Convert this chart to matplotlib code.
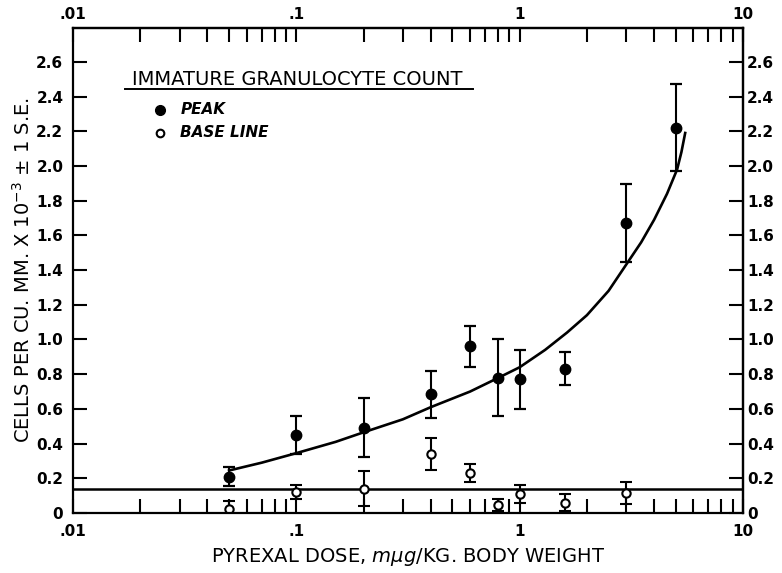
import matplotlib.pyplot as plt

# pyrexal dose (m-microgram / kg)
dose = [0.05, 0.1, 0.2, 0.4, 0.6, 0.8, 1.0, 1.6, 3.0, 5.0]
peak = [0.21, 0.45, 0.49, 0.685, 0.96, 0.78, 0.77, 0.83, 1.67, 2.22]
peak_se = [0.055, 0.11, 0.17, 0.135, 0.12, 0.22, 0.17, 0.095, 0.225, 0.25]

base_dose = [0.05, 0.1, 0.2, 0.4, 0.6, 0.8, 1.0, 1.6, 3.0]
base = [0.025, 0.12, 0.14, 0.34, 0.23, 0.045, 0.11, 0.06, 0.115]
base_se = [0.045, 0.04, 0.10, 0.095, 0.05, 0.035, 0.05, 0.05, 0.065]

baseline_level = 0.138

# fitted curve through the peak values
curve_dose = [0.05, 0.07, 0.1, 0.15, 0.2, 0.3, 0.4, 0.6, 0.82, 1.0, 1.3, 1.63,
              2.0, 2.5, 3.03, 3.5, 4.0, 4.57, 5.07, 5.3, 5.51]
curve_cells = [0.245, 0.29, 0.345, 0.41, 0.465, 0.54, 0.61, 0.70, 0.785, 0.84,
               0.94, 1.04, 1.14, 1.28, 1.44, 1.56, 1.69, 1.84, 1.98, 2.08, 2.19]

x_ticks = [0.01, 0.1, 1, 10]
x_labels = [".01", ".1", "1", "10"]
y_ticks = [0, 0.2, 0.4, 0.6, 0.8, 1.0, 1.2, 1.4, 1.6, 1.8, 2.0, 2.2, 2.4, 2.6]
y_labels = ["0"] + ["%.1f" % v for v in y_ticks[1:]]
minor_x = [m * d for d in [0.01, 0.1, 1] for m in range(2, 10)]

plt.rcParams['font.family'] = ['DejaVu Sans']

fig = plt.figure(figsize=(7.82, 5.73), dpi=100)
ax = fig.add_axes([73 / 782, 1 - 513 / 573, 670 / 782, 485 / 573])

ax.set_xscale('log')
ax.set_xlim(0.01, 10)
ax.set_ylim(0, 2.795)

ax.axhline(baseline_level, color='black', lw=1.8)
ax.plot(curve_dose, curve_cells, color='black', lw=1.9)

ax.errorbar(dose, peak, yerr=peak_se, fmt='o', color='black', ms=7.5,
            elinewidth=1.5, capsize=4.5, capthick=1.6)
ax.errorbar(base_dose, base, yerr=base_se, fmt='o', color='black', ms=6,
            mfc='white', mew=1.5, elinewidth=1.5, capsize=4.5, capthick=1.6)

for s in ax.spines.values():
    s.set_linewidth(1.6)

tick_kw = dict(direction='in', length=10, width=1.5, labelsize=11)
ax.set_xticks(x_ticks)
ax.set_xticklabels(x_labels, fontweight='bold')
ax.set_xticks(minor_x, minor=True)
ax.set_yticks(y_ticks)
ax.set_yticklabels(y_labels, fontweight='bold')
ax.tick_params(axis='x', which='both', pad=8, **tick_kw)
ax.tick_params(axis='y', which='both', pad=7, **tick_kw)
ax.tick_params(axis='x', which='minor', labelbottom=False)

top = ax.secondary_xaxis('top')
top.set_xticks(x_ticks)
top.set_xticklabels(x_labels, fontweight='bold')
top.set_xticks(minor_x, minor=True)
top.tick_params(axis='x', which='both', pad=4, **tick_kw)
top.tick_params(axis='x', which='minor', labeltop=False)
top.spines['top'].set_linewidth(1.6)

right = ax.secondary_yaxis('right')
right.set_yticks(y_ticks)
right.set_yticklabels(y_labels, fontweight='bold')
right.tick_params(axis='y', which='both', pad=3, **tick_kw)
right.spines['right'].set_linewidth(1.6)

ax.set_xlabel(r"PYREXAL DOSE, $m\mu g$/KG. BODY WEIGHT", fontsize=14, labelpad=5)
ax.set_ylabel(r"CELLS PER CU. MM. X 10$^{-3}$ $\pm$ 1 S.E.", fontsize=14, labelpad=2)

# legend block
ax.text(0.088, 0.893, "IMMATURE GRANULOCYTE COUNT", transform=ax.transAxes,
        fontsize=14, va='center', ha='left')
ax.plot([0.078, 0.597], [0.874, 0.874], transform=ax.transAxes, color='black',
        lw=1.4, clip_on=False)
ax.plot([0.130], [0.831], 'o', transform=ax.transAxes, color='black', ms=7)
ax.plot([0.130], [0.784], 'o', transform=ax.transAxes, color='black', ms=5.5,
        mfc='white', mew=1.5)
ax.text(0.160, 0.831, "PEAK", transform=ax.transAxes, fontsize=11,
        style='italic', fontweight='bold', va='center')
ax.text(0.160, 0.784, "BASE LINE", transform=ax.transAxes, fontsize=11,
        style='italic', fontweight='bold', va='center')

fig.savefig("out.png", dpi=100)
